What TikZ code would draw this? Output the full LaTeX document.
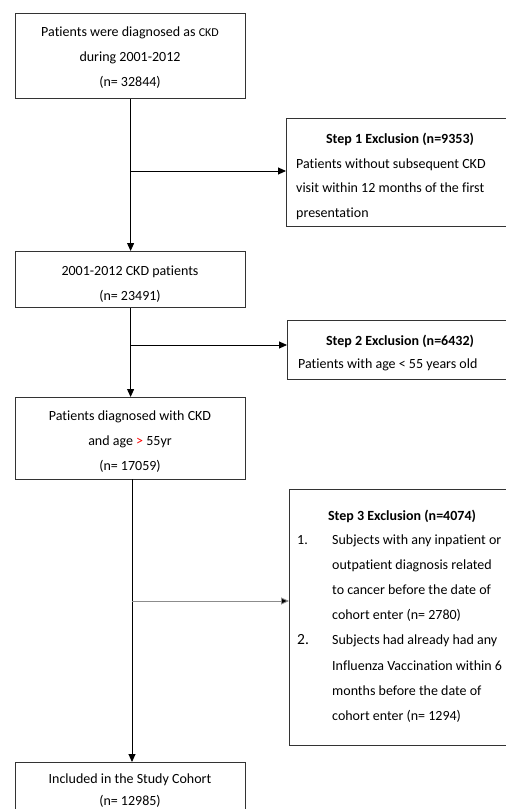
\documentclass[tikz,border=0pt]{standalone}
\usepackage{fontspec}
\setmainfont{Carlito}[Ligatures={CommonOff,TeX}]
\usetikzlibrary{arrows.meta}
\begin{document}
\begin{tikzpicture}[x=1pt,y=-1pt,
  box/.style={draw=black!80, line width=1.2pt, inner sep=0pt, anchor=north west},
  txt/.style={font=\fontsize{14}{16}\selectfont, inner sep=0pt, anchor=base},
  ltxt/.style={txt, anchor=base west},
  ttl/.style={txt, font=\fontsize{14}{16}\selectfont\bfseries},
  arr/.style={line width=0.9pt, -{Triangle[length=8pt,width=7pt]}},
  garr/.style={line width=0.9pt, draw=black!45, -{Triangle[length=8pt,width=7pt,fill=black]}}]
\useasboundingbox (0,0) rectangle (506,809);
% main boxes
\node[box, minimum width=230pt, minimum height=85pt] (b1) at (15,13) {};
\node[box, minimum width=230pt, minimum height=56pt] (b2) at (15,251) {};
\node[box, minimum width=230pt, minimum height=82pt] (b3) at (15,397) {};
\node[box, minimum width=230pt, minimum height=70pt] (b4) at (15,762) {};
% exclusion boxes
\node[box, minimum width=226pt, minimum height=108pt] (s1) at (286,118) {};
\node[box, minimum width=225pt, minimum height=59pt] (s2) at (287,320) {};
\node[box, minimum width=223pt, minimum height=256pt] (s3) at (289,489) {};
% box 1 text
\node[txt] (t11) at (130,36) {Patients were diagnosed as {\fontsize{12}{14}\selectfont CKD}};
\node[txt] (t12) at (130,61) {during 2001-2012};
\node[txt] (t13) at (130,86) {(n= 32844)};
% box 2 text
\node[txt] (t21) at (130,275) {2001-2012 CKD patients};
\node[txt] (t22) at (130,300) {(n= 23491)};
% box 3 text
\node[txt] (t31) at (130,420) {Patients diagnosed with CKD};
\node[txt] (t32) at (130,445) {and age \textcolor{red}{>} 55yr};
\node[txt] (t33) at (130,470) {(n= 17059)};
% box 4 text
\node[txt] (t41) at (130,783) {Included in the Study Cohort};
\node[txt] (t42) at (130,805) {(n= 12985)};
% step 1
\node[ttl] (u11) at (400,143) {Step 1 Exclusion (n=9353)};
\node[ltxt] (u12) at (296,168) {Patients without subsequent CKD};
\node[ltxt] (u13) at (296,192) {visit within 12 months of the first};
\node[ltxt] (u14) at (296,217) {presentation};
% step 2
\node[ttl] (u21) at (400,345) {Step 2 Exclusion (n=6432)};
\node[ltxt] (u22) at (298,368) {Patients with age < 55 years old};
% step 3
\node[ttl] (u31) at (402,520) {Step 3 Exclusion (n=4074)};
\node[ltxt] (n1) at (297,544) {1.};
\node[ltxt] (v1) at (332,544) {Subjects with any inpatient or};
\node[ltxt] (v2) at (332,569) {outpatient diagnosis related};
\node[ltxt] (v3) at (332,594) {to cancer before the date of};
\node[ltxt] (v4) at (332,619) {cohort enter (n= 2780)};
\node[ltxt, font=\fontsize{15.5}{17}\selectfont] (n2) at (297,644) {2.};
\node[ltxt] (v5) at (332,644) {Subjects had already had any};
\node[ltxt] (v6) at (332,670) {Influenza Vaccination within 6};
\node[ltxt] (v7) at (332,695) {months before the date of};
\node[ltxt] (v8) at (332,720) {cohort enter (n= 1294)};
% connectors
\coordinate (j1) at (130,171);
\coordinate (j2) at (130,345);
\coordinate (b3s) at (132,479);
\coordinate (j3) at (132,601);
\draw[arr] (b1.south) -- (b2.north);
\draw[arr] (j1) -- (s1.west |- j1);
\draw[arr] (b2.south) -- (b3.north);
\draw[arr] (j2) -- (s2.west |- j2);
\draw[arr] (b3s) -- (b3s |- b4.north);
\draw[garr] (j3) -- (s3.west |- j3);
\end{tikzpicture}
\end{document}
